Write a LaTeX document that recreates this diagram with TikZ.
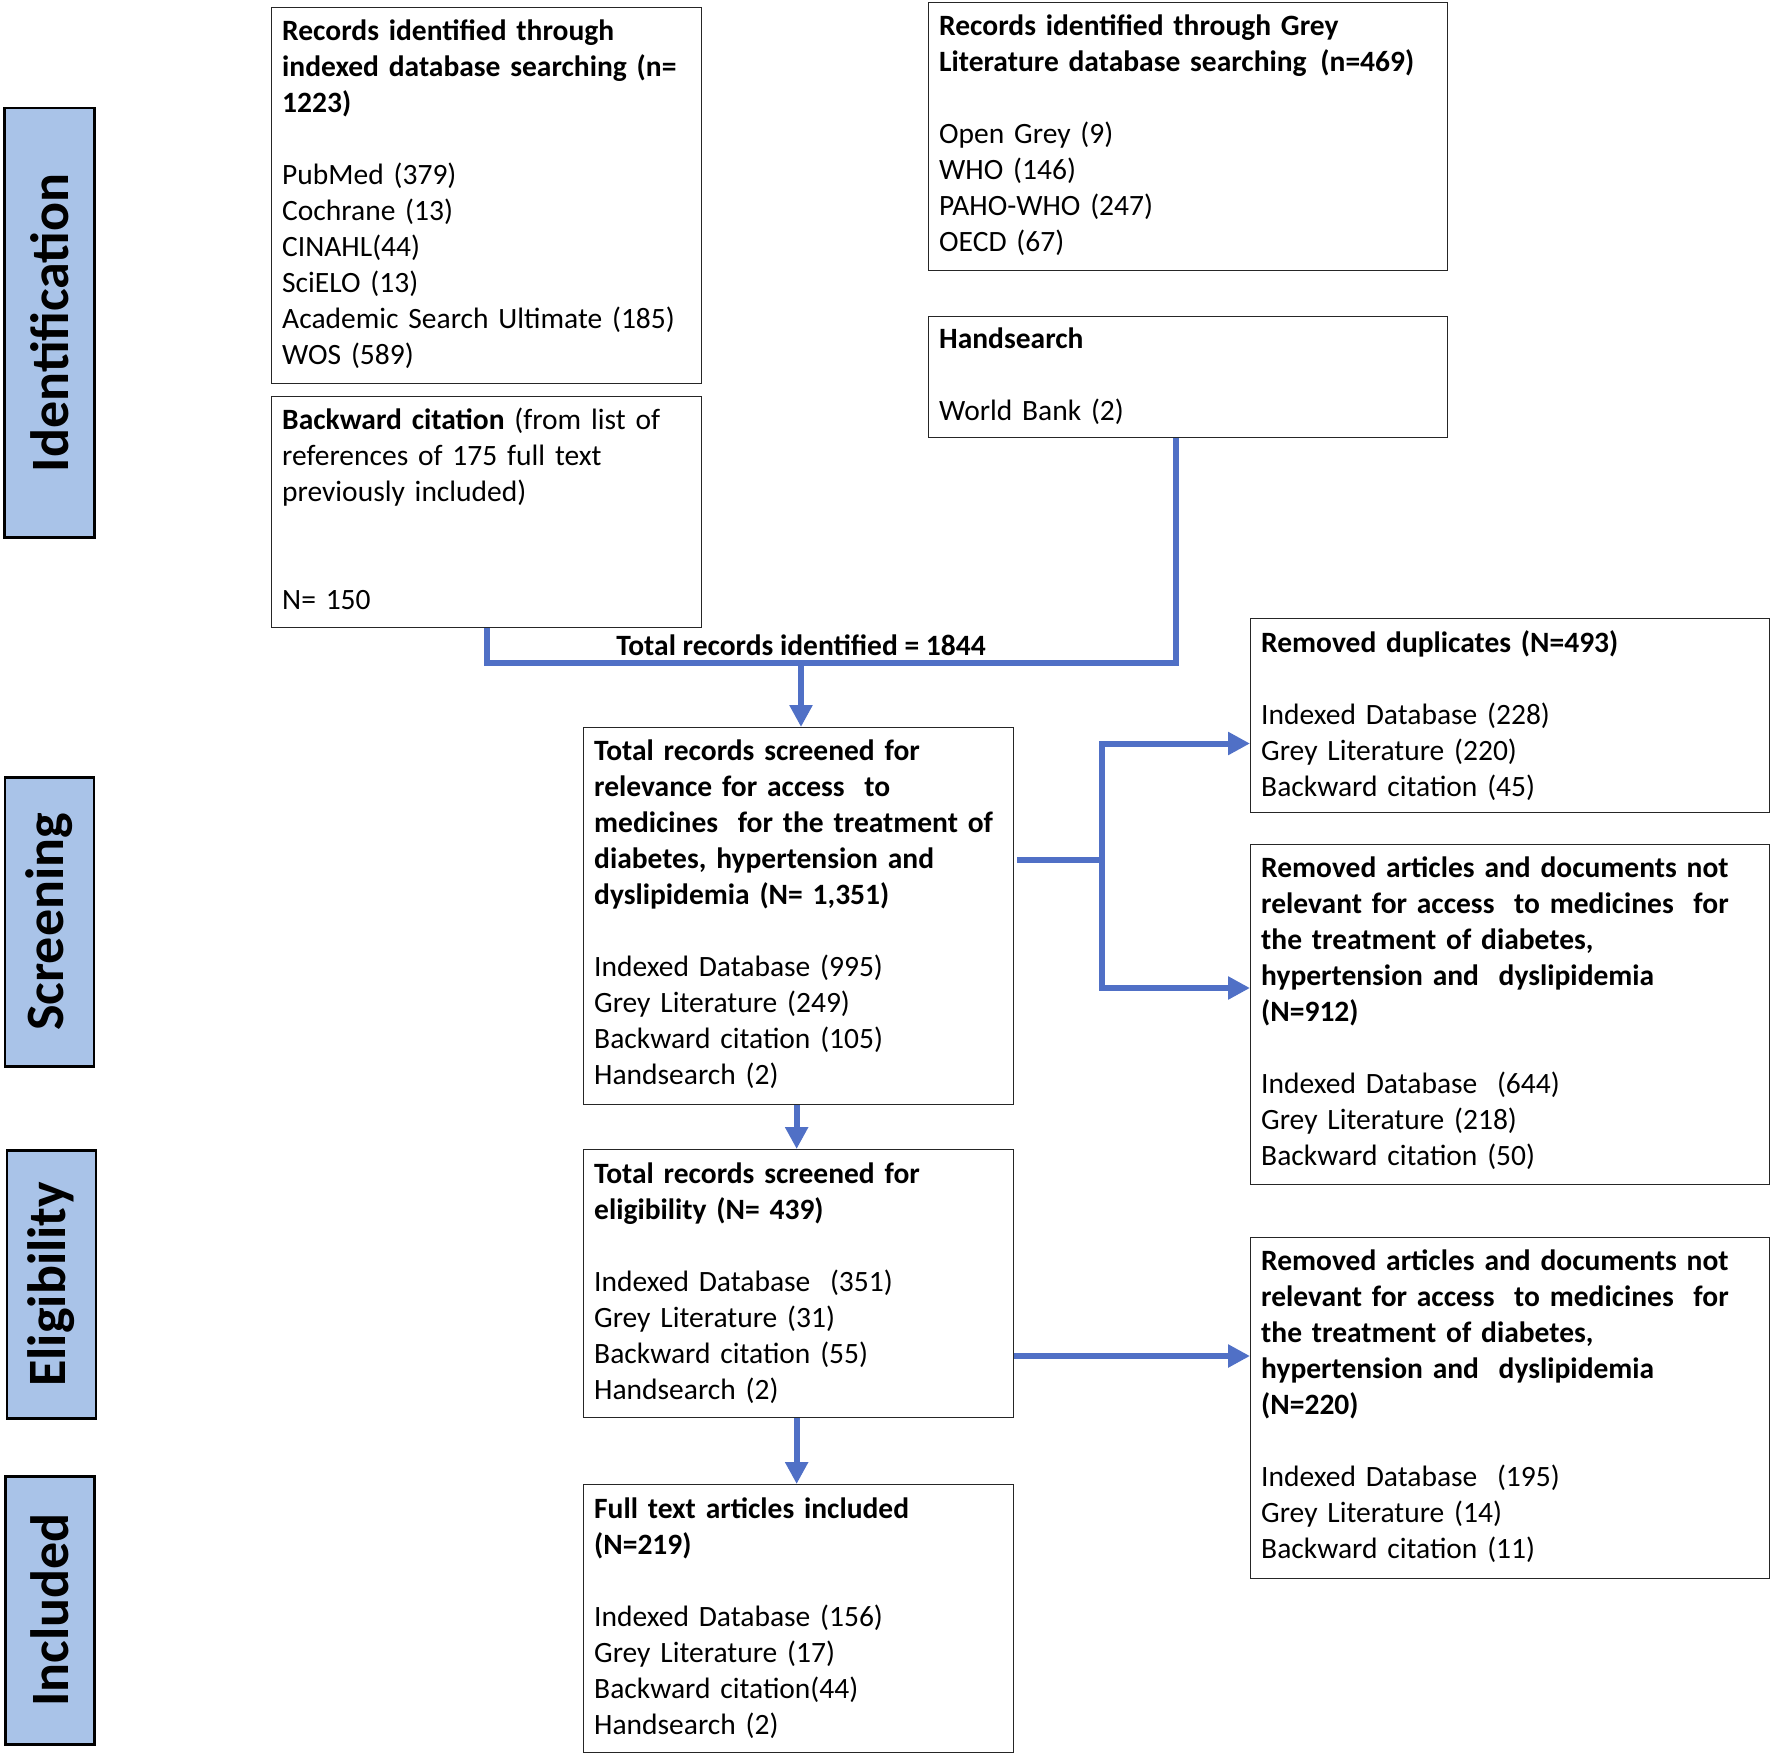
\documentclass[tikz,border=0pt]{standalone}
\usepackage{fontspec}
\setmainfont{Carlito}
\usetikzlibrary{arrows.meta}
\definecolor{flow}{HTML}{5070C6}
\definecolor{stage}{HTML}{A9C3E8}
\begin{document}
\begin{tikzpicture}[x=1pt,y=-1pt,
  box/.style={draw=black!85, line width=1.3pt, anchor=north west, inner sep=0pt},
  txt/.style={anchor=base west, inner sep=0pt, text width=600pt, align=left, font=\fontsize{29.5}{36}\selectfont},
  stagebox/.style={draw=black, line width=2.5pt, fill=stage, anchor=north west, inner sep=0pt},
  stagetxt/.style={rotate=90, inner sep=0pt, font=\fontsize{54}{60}\selectfont\bfseries},
  flowline/.style={draw=flow, line width=6pt},
  flowarrow/.style={flowline, -{Triangle[length=22pt,width=22pt]}}
]
\useasboundingbox (0,0) rectangle (1772,1755);

% stage labels
\node[stagebox, minimum width=90pt, minimum height=429pt] (L1) at (3,107) {};
\node[stagetxt] at (L1.center) {Identification};
\node[stagebox, minimum width=89pt, minimum height=289pt] (L2) at (3.5,776) {};
\node[stagetxt] at (L2.center) {Screening};
\node[stagebox, minimum width=89pt, minimum height=268pt] (L3) at (5.6,1149) {};
\node[stagetxt] at (L3.center) {Eligibility};
\node[stagebox, minimum width=89pt, minimum height=268pt] (L4) at (4,1475) {};
\node[stagetxt] at (L4.center) {Included};

% boxes
\node[box, minimum width=430pt, minimum height=376pt] (A) at (271,7) {};
\node[txt] at ([xshift=11pt,yshift=-33.5pt]A.north west) {{\bfseries Records identified through\\ indexed database searching (n=\\ 1223)}\\[36pt]
PubMed (379)\\ Cochrane (13)\\ CINAHL(44)\\ SciELO (13)\\ Academic Search Ultimate (185)\\ WOS (589)};

\node[box, minimum width=430pt, minimum height=231pt] (B) at (271,396) {};
\node[txt] at ([xshift=11pt,yshift=-33.5pt]B.north west) {\textbf{Backward citation} (from list of\\ references of 175 full text\\ previously included)\\[72pt] N= 150};

\node[box, minimum width=519pt, minimum height=268pt] (C) at (928,2) {};
\node[txt] at ([xshift=11pt,yshift=-33.5pt]C.north west) {{\bfseries Records identified through Grey\\ Literature database searching\hspace{4pt} (n=469)}\\[36pt]
Open Grey (9)\\ WHO (146)\\ PAHO-WHO (247)\\ OECD (67)};

\node[box, minimum width=519pt, minimum height=121pt] (D) at (928,316) {};
\node[txt] at ([xshift=11pt,yshift=-32pt]D.north west) {\textbf{Handsearch}\\[36pt] World Bank (2)};

\node[box, minimum width=430pt, minimum height=377pt] (E) at (583,727) {};
\node[txt] at ([xshift=11pt,yshift=-33pt]E.north west) {{\bfseries Total records screened for\\ relevance for access\ \ to\\ medicines\ \ for the treatment of\\ diabetes, hypertension and\\ dyslipidemia (N= 1,351)}\\[36pt]
Indexed Database (995)\\ Grey Literature (249)\\ Backward citation (105)\\ Handsearch (2)};

\node[box, minimum width=519pt, minimum height=194pt] (F) at (1250,618) {};
\node[txt] at ([xshift=11pt,yshift=-34pt]F.north west) {\textbf{Removed duplicates (N=493)}\\[36pt]
Indexed Database (228)\\ Grey Literature (220)\\ Backward citation (45)};

\node[box, minimum width=519pt, minimum height=340pt] (G) at (1250,844) {};
\node[txt] at ([xshift=11pt,yshift=-33pt]G.north west) {{\bfseries Removed articles and documents not\\ relevant for access\ \ to medicines\ \ for\\ the treatment of diabetes,\\ hypertension and\ \ dyslipidemia\\ (N=912)}\\[36pt]
Indexed Database\ \ (644)\\ Grey Literature (218)\\ Backward citation (50)};

\node[box, minimum width=430pt, minimum height=268pt] (H) at (583,1149) {};
\node[txt] at ([xshift=11pt,yshift=-34pt]H.north west) {{\bfseries Total records screened for\\ eligibility (N= 439)}\\[36pt]
Indexed Database\ \ (351)\\ Grey Literature (31)\\ Backward citation (55)\\ Handsearch (2)};

\node[box, minimum width=519pt, minimum height=341pt] (I) at (1250,1237) {};
\node[txt] at ([xshift=11pt,yshift=-33pt]I.north west) {{\bfseries Removed articles and documents not\\ relevant for access\ \ to medicines\ \ for\\ the treatment of diabetes,\\ hypertension and\ \ dyslipidemia\\ (N=220)}\\[36pt]
Indexed Database\ \ (195)\\ Grey Literature (14)\\ Backward citation (11)};

\node[box, minimum width=430pt, minimum height=268pt] (J) at (583,1484) {};
\node[txt] at ([xshift=11pt,yshift=-34pt]J.north west) {{\bfseries Full text articles included\\ (N=219)}\\[36pt]
Indexed Database (156)\\ Grey Literature (17)\\ Backward citation(44)\\ Handsearch (2)};

% connectors
\coordinate (jr) at (1176,663);
\draw[flowline] (B.south) |- (jr) -- (jr |- D.south);
\node[anchor=base, inner sep=0pt, font=\fontsize{29.5}{36}\selectfont\bfseries] (tot) at (801,655) {Total records identified = 1844};
\coordinate (ja) at (801,663);
\draw[flowarrow] (ja) -- (ja |- E.north);

\draw[flowarrow] ([xshift=-2pt]E.south) -- ([xshift=-2pt]H.north);
\draw[flowarrow] ([xshift=-2pt]H.south) -- ([xshift=-2pt]J.north);

\coordinate (bx) at (1102,860);
\coordinate (bt) at (1102,743.5);
\coordinate (bb) at (1102,988);
\draw[flowline] ([xshift=3pt]E.east |- bx) -- (bx);
\draw[flowarrow] (bx) |- (bt -| F.west);
\draw[flowarrow] (bx) |- (bb -| G.west);

\coordinate (hi) at (1013,1356);
\draw[flowarrow] (H.east |- hi) -- (I.west |- hi);
\end{tikzpicture}
\end{document}
